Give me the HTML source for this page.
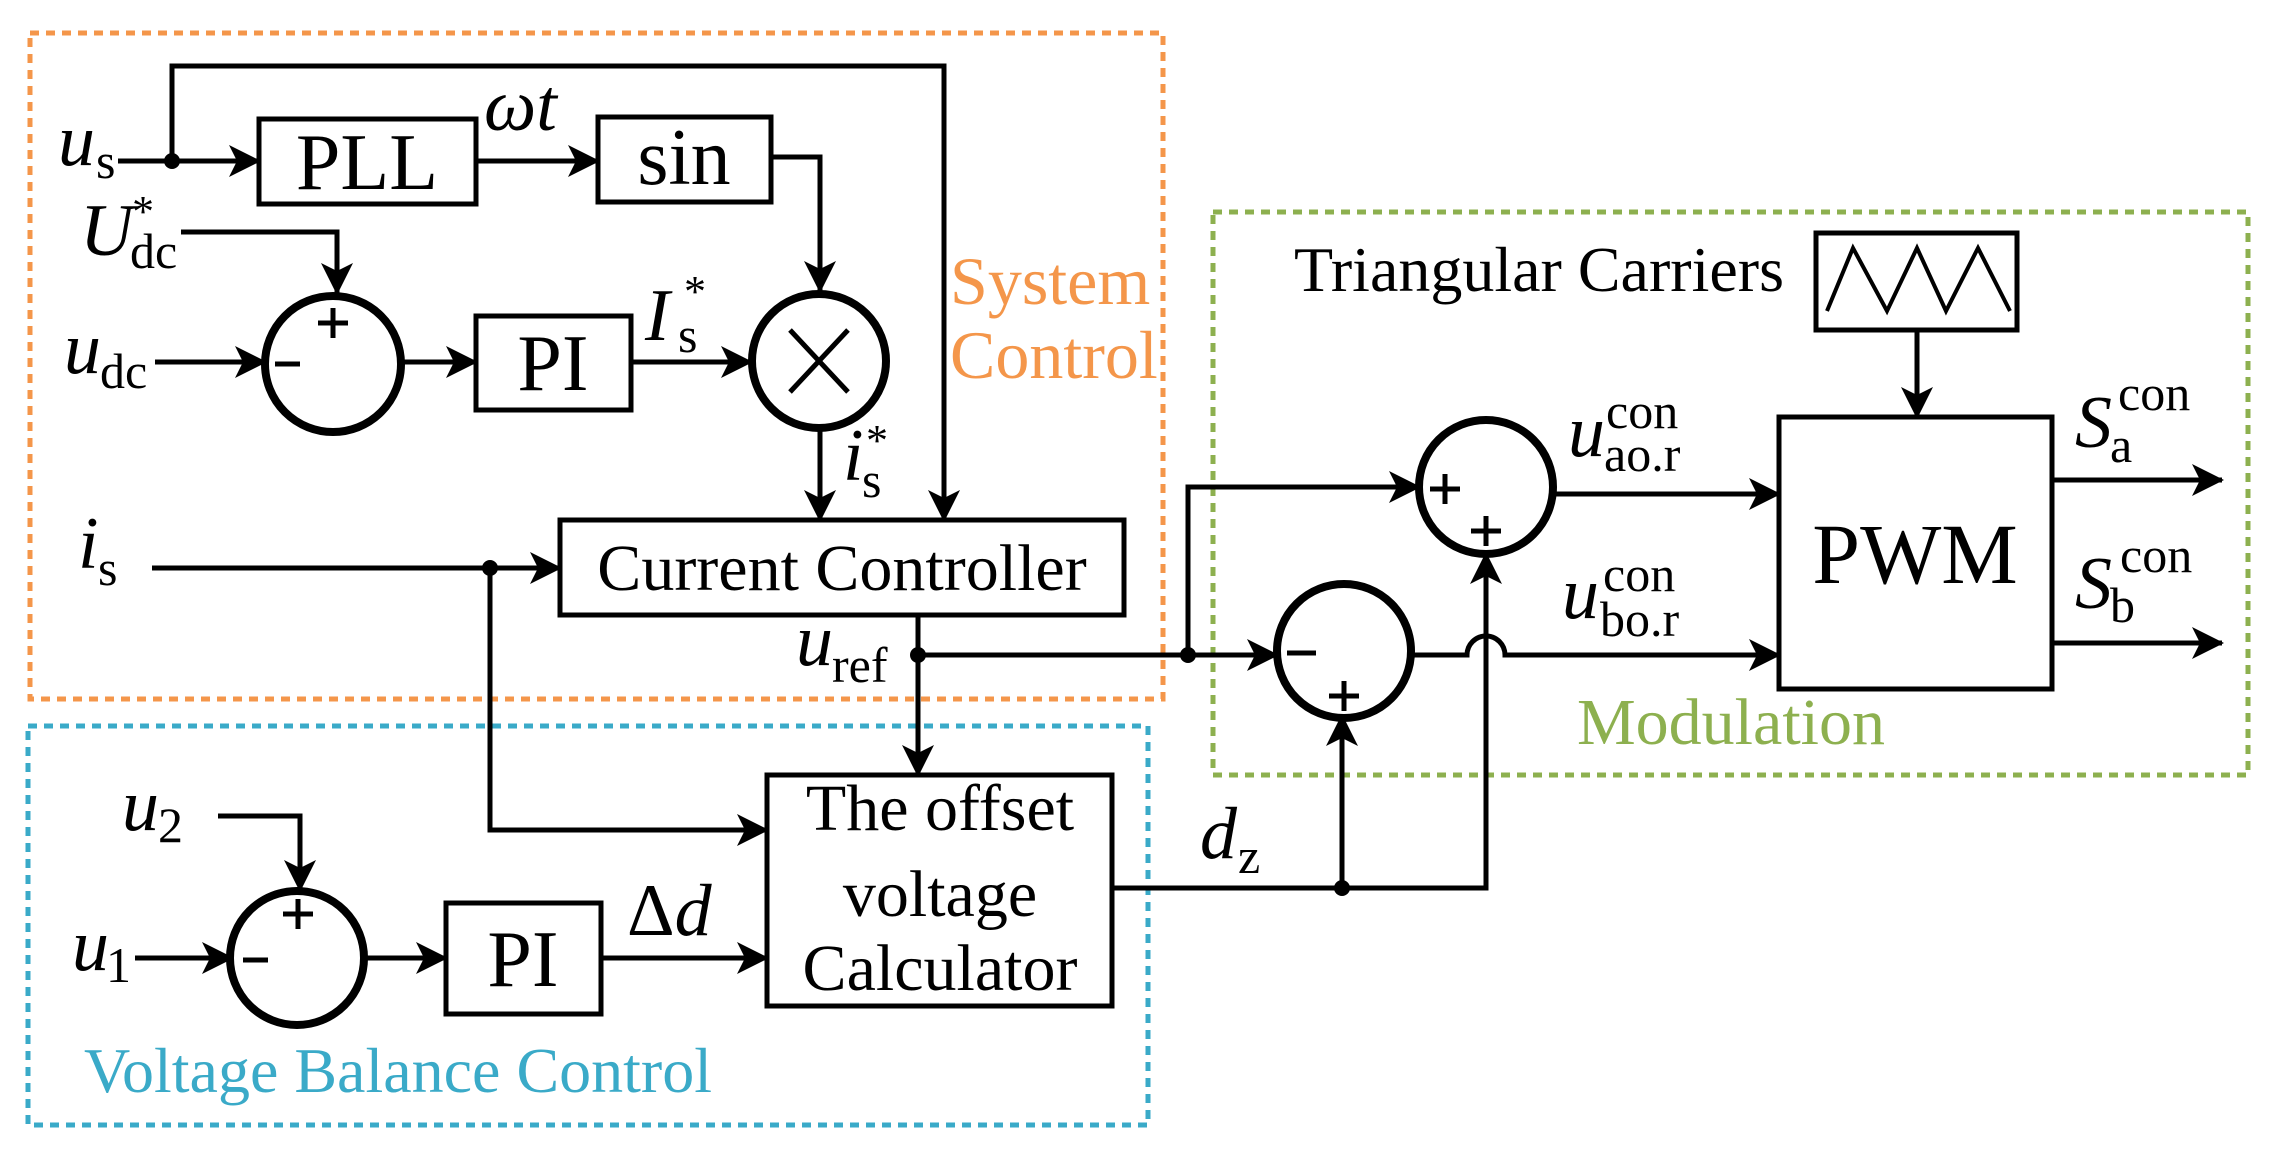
<!DOCTYPE html>
<html><head><meta charset="utf-8"><style>
html,body{margin:0;padding:0;background:#fff;}
svg{display:block;}
svg text{font-family:"Liberation Serif","Times New Roman","DejaVu Serif",serif;fill:#000;}
.it{font-style:italic;}
</style></head><body>
<svg width="2269" height="1151" viewBox="0 0 2269 1151" xmlns="http://www.w3.org/2000/svg" font-family="'Liberation Serif', 'DejaVu Serif', serif">
<defs>
<marker id="a" markerWidth="32" markerHeight="32" refX="30" refY="16" orient="auto" markerUnits="userSpaceOnUse">
<path d="M0,0 L32,16 L0,32 L8,16 Z" fill="#000"/>
</marker>
</defs>
<rect x="30" y="33" width="1133" height="666" fill="none" stroke="#F4964A" stroke-width="5" stroke-dasharray="9,7"/>
<rect x="28" y="726" width="1120" height="399" fill="none" stroke="#3AAAC8" stroke-width="5" stroke-dasharray="9,7"/>
<rect x="1213" y="212" width="1035" height="563" fill="none" stroke="#8DB04F" stroke-width="5" stroke-dasharray="9,7"/>

<g fill="none" stroke="#000" stroke-width="5">
<rect x="259" y="119" width="217" height="85"/>
<rect x="598" y="117" width="173" height="85"/>
<rect x="476" y="316" width="155" height="94"/>
<rect x="560" y="520" width="564" height="95"/>
<rect x="446" y="903" width="155" height="111"/>
<rect x="767" y="775" width="345" height="231"/>
<rect x="1816" y="233" width="201" height="97"/>
<rect x="1779" y="417" width="273" height="272"/>
<polyline points="1827,311 1853,248 1887,311 1917,248 1946,311 1978,248 2010,311" stroke-width="4"/>
<circle cx="333" cy="364" r="68" stroke-width="8"/>
<circle cx="819" cy="361" r="67" stroke-width="8"/>
<circle cx="297" cy="958" r="67" stroke-width="8"/>
<circle cx="1486" cy="487" r="67" stroke-width="8"/>
<circle cx="1344" cy="651" r="67" stroke-width="8"/>
<line x1="790" y1="330" x2="848" y2="392" stroke-width="5"/>
<line x1="848" y1="330" x2="790" y2="392" stroke-width="5"/>
<polyline points="172,161 172,66 944,66 944,520" marker-end="url(#a)"/>
<line x1="118" y1="161" x2="259" y2="161" marker-end="url(#a)"/>
<line x1="476" y1="161" x2="598" y2="161" marker-end="url(#a)"/>
<polyline points="771,157 820,157 820,291" marker-end="url(#a)"/>
<polyline points="181,232 337,232 337,293" marker-end="url(#a)"/>
<line x1="155" y1="362" x2="265" y2="362" marker-end="url(#a)"/>
<line x1="403" y1="362" x2="476" y2="362" marker-end="url(#a)"/>
<line x1="631" y1="362" x2="751" y2="362" marker-end="url(#a)"/>
<line x1="820" y1="431" x2="820" y2="520" marker-end="url(#a)"/>
<line x1="152" y1="568" x2="560" y2="568" marker-end="url(#a)"/>
<polyline points="490,568 490,830 767,830" marker-end="url(#a)"/>
<line x1="918" y1="615" x2="918" y2="775" marker-end="url(#a)"/>
<line x1="918" y1="655" x2="1277" y2="655" marker-end="url(#a)"/>
<polyline points="1188,655 1188,487 1419,487" marker-end="url(#a)"/>
<polyline points="218,816 300,816 300,890" marker-end="url(#a)"/>
<line x1="135" y1="958" x2="232" y2="958" marker-end="url(#a)"/>
<line x1="365" y1="958" x2="446" y2="958" marker-end="url(#a)"/>
<line x1="601" y1="958" x2="767" y2="958" marker-end="url(#a)"/>
<polyline points="1112,888 1486,888 1486,554" marker-end="url(#a)"/>
<line x1="1342" y1="888" x2="1342" y2="716" marker-end="url(#a)"/>
<line x1="1555" y1="494" x2="1779" y2="494" marker-end="url(#a)"/>
<path d="M1411,655 L1467,655 A19,19 0 0 1 1505,655 L1779,655" marker-end="url(#a)"/>
<line x1="1917" y1="330" x2="1917" y2="417" marker-end="url(#a)"/>
<line x1="2052" y1="480" x2="2222" y2="480" marker-end="url(#a)"/>
<line x1="2052" y1="643" x2="2222" y2="643" marker-end="url(#a)"/>
</g>
<g fill="#000">
<circle cx="172" cy="161" r="8"/>
<circle cx="490" cy="568" r="8"/>
<circle cx="918" cy="655" r="8"/>
<circle cx="1188" cy="655" r="8"/>
<circle cx="1342" cy="888" r="8"/>
</g>
<g stroke="#000" stroke-width="5">
<line x1="318" y1="323" x2="348" y2="323"/><line x1="333" y1="308" x2="333" y2="338"/>
<line x1="275" y1="364" x2="300" y2="364"/>
<line x1="283" y1="914" x2="313" y2="914"/><line x1="298" y1="899" x2="298" y2="929"/>
<line x1="243" y1="960" x2="268" y2="960"/>
<line x1="1430" y1="489" x2="1460" y2="489"/><line x1="1445" y1="474" x2="1445" y2="504"/>
<line x1="1471" y1="531" x2="1501" y2="531"/><line x1="1486" y1="516" x2="1486" y2="546"/>
<line x1="1287" y1="653" x2="1316" y2="653"/>
<line x1="1329" y1="696" x2="1359" y2="696"/><line x1="1344" y1="681" x2="1344" y2="711"/>
</g>
<g font-size="80" text-anchor="middle">
<text x="367" y="189">PLL</text>
<text x="684" y="184">sin</text>
<text x="553" y="390">PI</text>
<text x="523" y="986">PI</text>
</g>
<text x="842" y="590" font-size="66" text-anchor="middle">Current Controller</text>
<g font-size="66" text-anchor="middle">
<text x="940" y="830">The offset</text>
<text x="940" y="916">voltage</text>
<text x="940" y="990">Calculator</text>
</g>
<text x="1915" y="583" font-size="86" text-anchor="middle">PWM</text>
<text x="1294" y="291" font-size="64">Triangular Carriers</text>
<text x="950" y="304" font-size="68" style="fill:#F4964A">System</text>
<text x="950" y="378" font-size="68" style="fill:#F4964A">Control</text>
<text x="84" y="1092" font-size="64" style="fill:#3AAAC8">Voltage Balance Control</text>
<text x="1577" y="744" font-size="66" style="fill:#8DB04F">Modulation</text>
<g font-size="74">
<text x="58" y="165" class="it">u</text><text x="96" y="178" font-size="50">s</text>
<text x="484" y="130" class="it">ωt</text>
<text x="80" y="255" class="it">U</text><text x="132" y="226" font-size="44">*</text><text x="130" y="268" font-size="50">dc</text>
<text x="64" y="373" class="it">u</text><text x="100" y="388" font-size="50">dc</text>
<text x="645" y="340" class="it">I</text><text x="684" y="306" font-size="44">*</text><text x="678" y="352" font-size="50">s</text>
<text x="843" y="480" class="it">i</text><text x="866" y="455" font-size="44">*</text><text x="862" y="497" font-size="50">s</text>
<text x="78" y="568" class="it">i</text><text x="98" y="585" font-size="50">s</text>
<text x="796" y="665" class="it">u</text><text x="832" y="682" font-size="50">ref</text>
<text x="122" y="830" class="it">u</text><text x="158" y="842" font-size="50">2</text>
<text x="72" y="970" class="it">u</text><text x="106" y="982" font-size="50">1</text>
<text x="627" y="935">Δ<tspan class="it">d</tspan></text>
<text x="1200" y="858" class="it">d</text><text x="1238" y="873" font-size="50">z</text>
<text x="1568" y="456" class="it">u</text><text x="1606" y="428" font-size="50">con</text><text x="1604" y="471" font-size="50">ao.r</text>
<text x="1562" y="618" class="it">u</text><text x="1603" y="591" font-size="50">con</text><text x="1600" y="636" font-size="50">bo.r</text>
<text x="2075" y="447" class="it">S</text><text x="2118" y="410" font-size="50">con</text><text x="2110" y="462" font-size="50">a</text>
<text x="2075" y="608" class="it">S</text><text x="2120" y="572" font-size="50">con</text><text x="2110" y="622" font-size="50">b</text>
</g>
</svg>
</body></html>
